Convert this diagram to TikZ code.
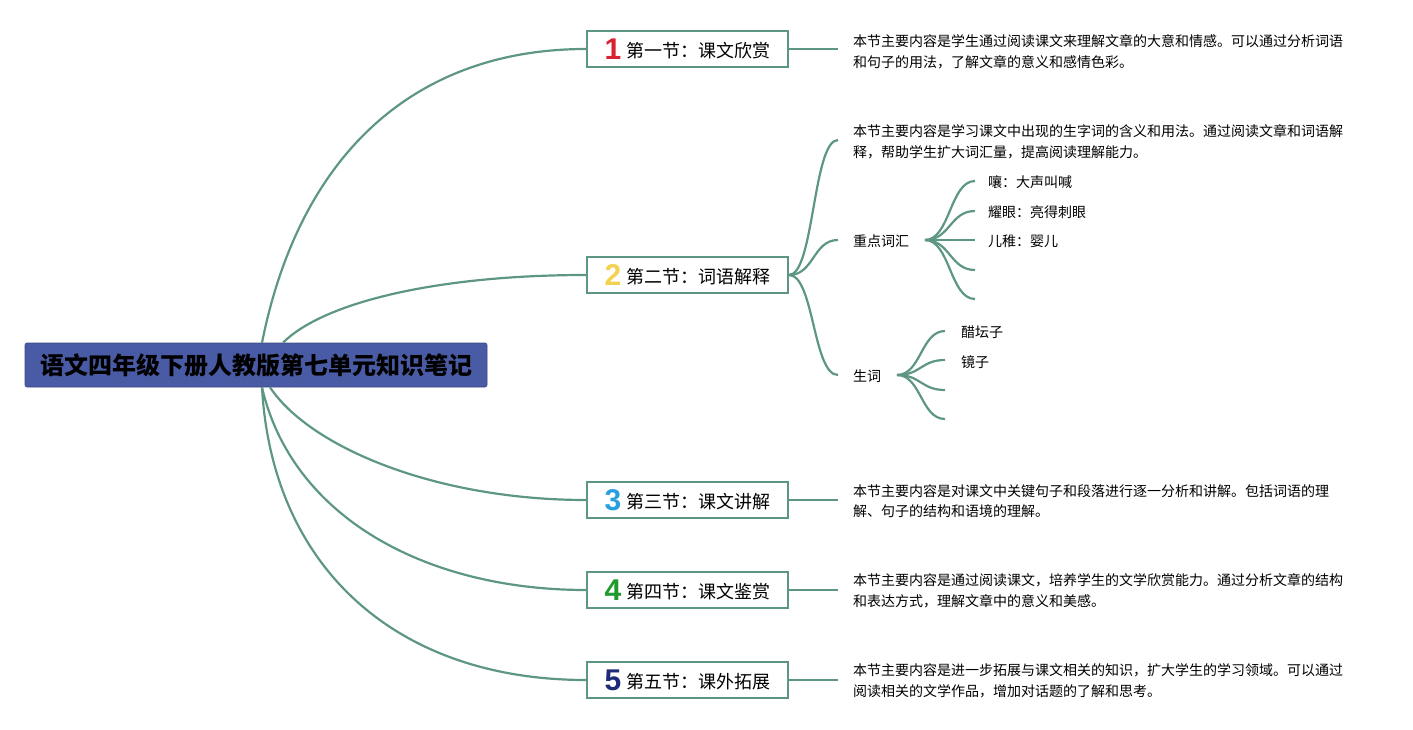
\documentclass[tikz,border=0pt]{standalone}
\usepackage{fontspec}
\usepackage{xcolor}
\setmainfont{Noto Sans CJK SC}
\newfontfamily\numFont{Liberation Sans}
\definecolor{mapLine}{HTML}{5E9684}
\definecolor{rootFill}{HTML}{4A5BA5}
\definecolor{numRed}{HTML}{D8232F}
\definecolor{numYellow}{HTML}{F2D24E}
\definecolor{numBlue}{HTML}{2A9FDF}
\definecolor{numGreen}{HTML}{1F9A2C}
\definecolor{numNavy}{HTML}{1E2A78}
\newcommand{\secNum}[2]{\raisebox{-0.1em}{\numFont\bfseries\fontsize{30pt}{30pt}\selectfont\color{#1}#2}\hspace{5pt}}
\tikzset{
  rootBox/.style={draw=rootFill!80!black, line width=0.6pt, fill=rootFill, rounded corners=2pt, minimum width=462pt, minimum height=44pt, inner sep=0pt, font={\bfseries\fontsize{24pt}{24pt}\selectfont}},
  sectionBox/.style={draw=mapLine, line width=2pt, fill=white, minimum width=201pt, minimum height=36pt, inner sep=0pt, font={\fontsize{18pt}{18pt}\selectfont}},
  descText/.style={anchor=west, inner sep=0pt, align=left, font={\fontsize{14pt}{20.5pt}\selectfont}},
  leafText/.style={anchor=west, inner sep=0pt, font={\fontsize{14pt}{14pt}\selectfont}},
  branchLine/.style={draw=mapLine, line width=2.2pt}
}
\begin{document}
\begin{tikzpicture}[x=1pt,y=-1pt]
\useasboundingbox (0,0) rectangle (1413,730);
\node[rootBox] (root) at (256,365) {语文四年级下册人教版第七单元知识笔记};
\node[sectionBox] (secOne) at (687.5,49) {\secNum{numRed}{1}第一节：课文欣赏};
\node[sectionBox] (secTwo) at (687.5,275) {\secNum{numYellow}{2}第二节：词语解释};
\node[sectionBox] (secThree) at (687.5,500) {\secNum{numBlue}{3}第三节：课文讲解};
\node[sectionBox] (secFour) at (687.5,590) {\secNum{numGreen}{4}第四节：课文鉴赏};
\node[sectionBox] (secFive) at (687.5,680) {\secNum{numNavy}{5}第五节：课外拓展};
\draw[branchLine] ([xshift=6pt]root.north) .. controls +(38,-190) and +(-170,0) .. (secOne.west);
\draw[branchLine] ([xshift=27pt]root.north) .. controls +(40,-40) and +(-150,0) .. (secTwo.west);
\draw[branchLine] ([xshift=14pt]root.south) .. controls +(40,60) and +(-150,0) .. (secThree.west);
\draw[branchLine] ([xshift=6pt]root.south) .. controls +(30,130) and +(-160,0) .. (secFour.west);
\draw[branchLine] ([xshift=6pt]root.south) .. controls +(10,180) and +(-190,0) .. (secFive.west);
\node[descText] (descOne) at (853,52) {本节主要内容是学生通过阅读课文来理解文章的大意和情感。可以通过分析词语\\和句子的用法，了解文章的意义和感情色彩。};
\node[descText] (descTwo) at (853,142) {本节主要内容是学习课文中出现的生字词的含义和用法。通过阅读文章和词语解\\释，帮助学生扩大词汇量，提高阅读理解能力。};
\node[descText] (descThree) at (853,501) {本节主要内容是对课文中关键句子和段落进行逐一分析和讲解。包括词语的理\\解、句子的结构和语境的理解。};
\node[descText] (descFour) at (853,591) {本节主要内容是通过阅读课文，培养学生的文学欣赏能力。通过分析文章的结构\\和表达方式，理解文章中的意义和美感。};
\node[descText] (descFive) at (853,681) {本节主要内容是进一步拓展与课文相关的知识，扩大学生的学习领域。可以通过\\阅读相关的文学作品，增加对话题的了解和思考。};
\draw[branchLine] (secOne.east) -- (secOne.east -| 838,0);
\draw[branchLine] (secThree.east) -- (secThree.east -| 838,0);
\draw[branchLine] (secFour.east) -- (secFour.east -| 838,0);
\draw[branchLine] (secFive.east) -- (secFive.east -| 838,0);
\node[leafText] (keyWords) at (853,241) {重点词汇};
\node[leafText] (newWords) at (853,376) {生词};
\coordinate (descTwoIn) at (838,140);
\coordinate (keyIn) at (838,240);
\coordinate (newIn) at (838,375);
\draw[branchLine] (secTwo.east) .. controls +(25,0) and +(-25,0) .. (descTwoIn);
\draw[branchLine] (secTwo.east) .. controls +(25,0) and +(-25,0) .. (keyIn);
\draw[branchLine] (secTwo.east) .. controls +(25,0) and +(-25,0) .. (newIn);
\coordinate (keyOut) at (925,240);
\node[leafText] (keyA) at (988,182) {嚷：大声叫喊};
\node[leafText] (keyB) at (988,212) {耀眼：亮得刺眼};
\node[leafText] (keyC) at (988,241) {儿稚：婴儿};
\coordinate (keyAIn) at (975,181);
\coordinate (keyBIn) at (975,211);
\coordinate (keyCIn) at (975,240);
\coordinate (keyDIn) at (975,270);
\coordinate (keyEIn) at (975,299);
\foreach \leaf in {keyAIn,keyBIn,keyCIn,keyDIn,keyEIn}
  \draw[branchLine] (keyOut) .. controls +(25,0) and +(-25,0) .. (\leaf);
\coordinate (newOut) at (897,375);
\node[leafText] (newA) at (961,332) {醋坛子};
\node[leafText] (newB) at (961,362) {镜子};
\coordinate (newAIn) at (945,331);
\coordinate (newBIn) at (945,360);
\coordinate (newCIn) at (945,390);
\coordinate (newDIn) at (945,419);
\foreach \leaf in {newAIn,newBIn,newCIn,newDIn}
  \draw[branchLine] (newOut) .. controls +(24,0) and +(-24,0) .. (\leaf);
\end{tikzpicture}
\end{document}
